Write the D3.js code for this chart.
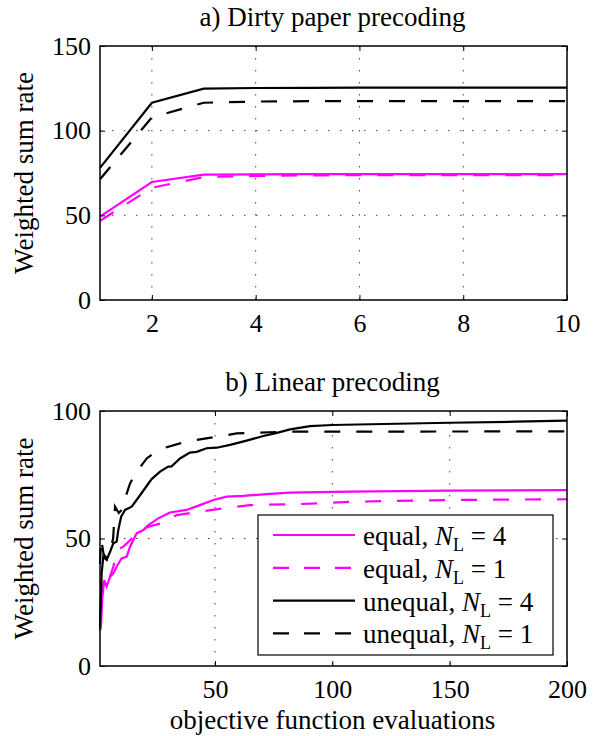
<!DOCTYPE html>
<html>
<head>
<meta charset="utf-8">
<script src="https://cdn.jsdelivr.net/npm/d3@7/dist/d3.min.js"></script>
<style>
  body { margin: 0; background: #fff; }
  svg text { font-family: "Liberation Serif", "Times New Roman", serif; fill: #000; }
</style>
</head>
<body>
<div id="chart"></div>
<script>
// ---- a) Dirty paper precoding ----
const dpcX = [1, 2, 3, 4, 5, 6, 7, 8, 9, 10];
const dpcEqualN4 = [49.2, 69.7, 74.0, 74.2, 74.3, 74.3, 74.3, 74.3, 74.3, 74.3];
const dpcEqualN1 = [46.7, 66.3, 72.6, 73.3, 73.6, 73.7, 73.7, 73.7, 73.7, 73.7];
const dpcUnequalN4 = [78.0, 116.5, 124.8, 125.2, 125.3, 125.4, 125.4, 125.4, 125.4, 125.4];
const dpcUnequalN1 = [71.3, 107.9, 116.5, 117.2, 117.4, 117.5, 117.5, 117.5, 117.5, 117.5];
const dpcXTicks = [2, 4, 6, 8, 10];
const dpcYTicks = [0, 50, 100, 150];

// ---- b) Linear precoding ----
const linEqualN4X = [1, 1.4, 2, 2.8, 3.8, 5.3, 6.7, 8.1, 10.2, 12.4, 13.8, 15.2, 16.6, 19.5, 21.6, 25.8, 28.7, 30.8, 37.9, 43.6, 49.3, 55, 62, 73.4, 82, 107.5, 150, 200];
const linEqualN4Y = [14, 15.4, 27, 33.7, 31.1, 35, 36.3, 39, 42.2, 42.9, 46.8, 49.4, 52, 53.3, 55.3, 57.9, 59.2, 60.2, 61.2, 63.1, 65.1, 66.4, 66.7, 67.5, 68, 68.4, 68.8, 69];
const linEqualN1X = [1, 2, 3.1, 4.5, 6.7, 8.1, 9.5, 10.9, 13.5, 15.9, 18.7, 21.6, 27.2, 33.7, 43.6, 53.5, 64.9, 86.2, 107.5, 150, 200];
const linEqualN1Y = [14, 30, 35, 33, 39, 44.8, 46.1, 46.8, 49, 51.4, 53.3, 54.6, 56, 59.2, 60.5, 61.8, 63.1, 63.5, 64.4, 65.1, 65.4];
const linUnequalN4X = [1, 1.7, 2.4, 3.8, 5.3, 6.7, 8.1, 8.8, 10, 11.7, 14.5, 16.6, 20.2, 23, 26.6, 30.1, 31.5, 35.1, 39.3, 42.2, 46.4, 50.7, 56.4, 63.5, 70.6, 76, 82, 90.5, 100, 122, 150, 178, 200];
const linUnequalN4Y = [15.4, 36.3, 42.9, 41.6, 44.8, 48.1, 48.8, 53.3, 58.6, 61.2, 62.5, 65.1, 69.7, 73.3, 76.2, 78.2, 78.3, 81.4, 83.7, 84.0, 85.4, 85.6, 86.7, 88.4, 90.2, 91.3, 92.8, 94.1, 94.5, 94.9, 95.4, 95.8, 96.2];
const linUnequalN1X = [1, 1.5, 2.5, 4, 5.5, 6.6, 7.4, 9, 10, 12.4, 13.8, 16.6, 20.9, 24, 28, 35.1, 43.6, 50.7, 59.2, 67.8, 80, 200];
const linUnequalN1Y = [40, 50, 44, 42, 46, 50, 62.5, 60, 61, 67.7, 71.6, 76.2, 81.4, 83.5, 85.4, 87.3, 88.9, 89.9, 91.2, 91.5, 91.9, 92];
const linXTicks = [50, 100, 150, 200];
const linYTicks = [0, 50, 100];

const legendNames = ["equal", "equal", "unequal", "unequal"];
const legendNL = [4, 1, 4, 1];

const MAGENTA = "#ff00ff";
const SERIF = '"Liberation Serif", "Times New Roman", serif';
const width = 601, height = 736;
const left = 100, right = 567;
const labelSize = "27px", tickSize = "26px";

const svg = d3.select("#chart")
  .append("svg")
  .attr("width", width)
  .attr("height", height)
  .attr("font-family", SERIF);

function drawPanel(opt) {
  const x = d3.scaleLinear().domain(opt.xDomain).range([left, right]);
  const y = d3.scaleLinear().domain(opt.yDomain).range([opt.bottom, opt.top]);
  const g = svg.append("g");

  // dotted grid
  g.selectAll(".vgrid")
    .data(opt.xTicks.filter(t => t < opt.xDomain[1]))
    .enter().append("line")
    .attr("x1", d => x(d)).attr("x2", d => x(d))
    .attr("y1", opt.top).attr("y2", opt.bottom)
    .attr("stroke", "#444").attr("stroke-width", 1)
    .attr("stroke-dasharray", "1.5,10.5");
  g.selectAll(".hgrid")
    .data(opt.yTicks.filter(t => t > opt.yDomain[0] && t < opt.yDomain[1]))
    .enter().append("line")
    .attr("x1", left).attr("x2", right)
    .attr("y1", d => y(d)).attr("y2", d => y(d))
    .attr("stroke", "#444").attr("stroke-width", 1)
    .attr("stroke-dasharray", "1.5,10.5");

  // series
  const line = d3.line().x(d => x(d[0])).y(d => y(d[1]));
  opt.series.forEach(s => {
    g.append("path")
      .datum(s.xs.map((v, i) => [v, s.ys[i]]))
      .attr("d", line)
      .attr("fill", "none")
      .attr("stroke", s.color)
      .attr("stroke-width", 2.2)
      .attr("stroke-dasharray", s.dashed ? "16,16" : null);
  });

  // axes, ticks pointing inward
  const xb = g.append("g").attr("transform", `translate(0,${opt.bottom})`)
    .call(d3.axisBottom(x).tickValues(opt.xTicks).tickSizeInner(-5).tickSizeOuter(0).tickPadding(14));
  const xt = g.append("g").attr("transform", `translate(0,${opt.top})`)
    .call(d3.axisTop(x).tickValues(opt.xTicks).tickSizeInner(-5).tickSizeOuter(0).tickFormat(""));
  const yl = g.append("g").attr("transform", `translate(${left},0)`)
    .call(d3.axisLeft(y).tickValues(opt.yTicks).tickSizeInner(-5).tickSizeOuter(0).tickPadding(9));
  const yr = g.append("g").attr("transform", `translate(${right},0)`)
    .call(d3.axisRight(y).tickValues(opt.yTicks).tickSizeInner(-5).tickSizeOuter(0).tickFormat(""));
  [xb, xt, yl, yr].forEach(a => {
    a.attr("font-family", SERIF);
    a.select(".domain").remove();
    a.selectAll("line").attr("stroke", "#000").attr("stroke-width", 1);
    a.selectAll("text").style("font-size", tickSize).attr("fill", "#000");
  });

  // frame
  g.append("rect")
    .attr("x", left).attr("y", opt.top)
    .attr("width", right - left).attr("height", opt.bottom - opt.top)
    .attr("fill", "none").attr("stroke", "#000").attr("stroke-width", 1.5);

  // title and y label
  g.append("text")
    .attr("x", (left + right) / 2 - 1).attr("y", opt.titleY)
    .attr("text-anchor", "middle").style("font-size", labelSize)
    .text(opt.title);
  g.append("text")
    .attr("transform", `translate(33,${(opt.top + opt.bottom) / 2}) rotate(-90)`)
    .attr("text-anchor", "middle").style("font-size", labelSize)
    .text("Weighted sum rate");

  return { x, y, g };
}

drawPanel({
  title: "a) Dirty paper precoding", titleY: 26,
  top: 46, bottom: 300,
  xDomain: [1, 10], yDomain: [0, 150],
  xTicks: dpcXTicks, yTicks: dpcYTicks,
  series: [
    { xs: dpcX, ys: dpcUnequalN1, color: "#000", dashed: true },
    { xs: dpcX, ys: dpcUnequalN4, color: "#000", dashed: false },
    { xs: dpcX, ys: dpcEqualN1, color: MAGENTA, dashed: true },
    { xs: dpcX, ys: dpcEqualN4, color: MAGENTA, dashed: false }
  ]
});

drawPanel({
  title: "b) Linear precoding", titleY: 391,
  top: 411, bottom: 666,
  xDomain: [1, 200], yDomain: [0, 100],
  xTicks: linXTicks, yTicks: linYTicks,
  series: [
    { xs: linEqualN4X, ys: linEqualN4Y, color: MAGENTA, dashed: false },
    { xs: linEqualN1X, ys: linEqualN1Y, color: MAGENTA, dashed: true },
    { xs: linUnequalN4X, ys: linUnequalN4Y, color: "#000", dashed: false },
    { xs: linUnequalN1X, ys: linUnequalN1Y, color: "#000", dashed: true }
  ]
});

// x axis label
svg.append("text")
  .attr("x", (left + right) / 2 - 1).attr("y", 729)
  .attr("text-anchor", "middle").style("font-size", labelSize)
  .text("objective function evaluations");

// legend
const legendColors = [MAGENTA, MAGENTA, "#000", "#000"];
const legendDashed = [false, true, false, true];
const lg = svg.append("g");
lg.append("rect")
  .attr("x", 258).attr("y", 515).attr("width", 295).attr("height", 140)
  .attr("fill", "#fff").attr("stroke", "#000").attr("stroke-width", 1.2);
legendNames.forEach((name, i) => {
  const ly = 535 + i * 32.8;
  lg.append("line")
    .attr("x1", 273).attr("x2", 355).attr("y1", ly).attr("y2", ly)
    .attr("stroke", legendColors[i]).attr("stroke-width", 2.2)
    .attr("stroke-dasharray", legendDashed[i] ? "16,15" : null);
  const t = lg.append("text")
    .attr("x", 363).attr("y", ly + 10)
    .style("font-size", labelSize);
  t.append("tspan").text(name + ", ");
  t.append("tspan").style("font-style", "italic").text("N");
  t.append("tspan").attr("dy", 6).style("font-size", "18px").text("L");
  t.append("tspan").attr("dy", -6).text(" = " + legendNL[i]);
});
</script>
</body>
</html>
